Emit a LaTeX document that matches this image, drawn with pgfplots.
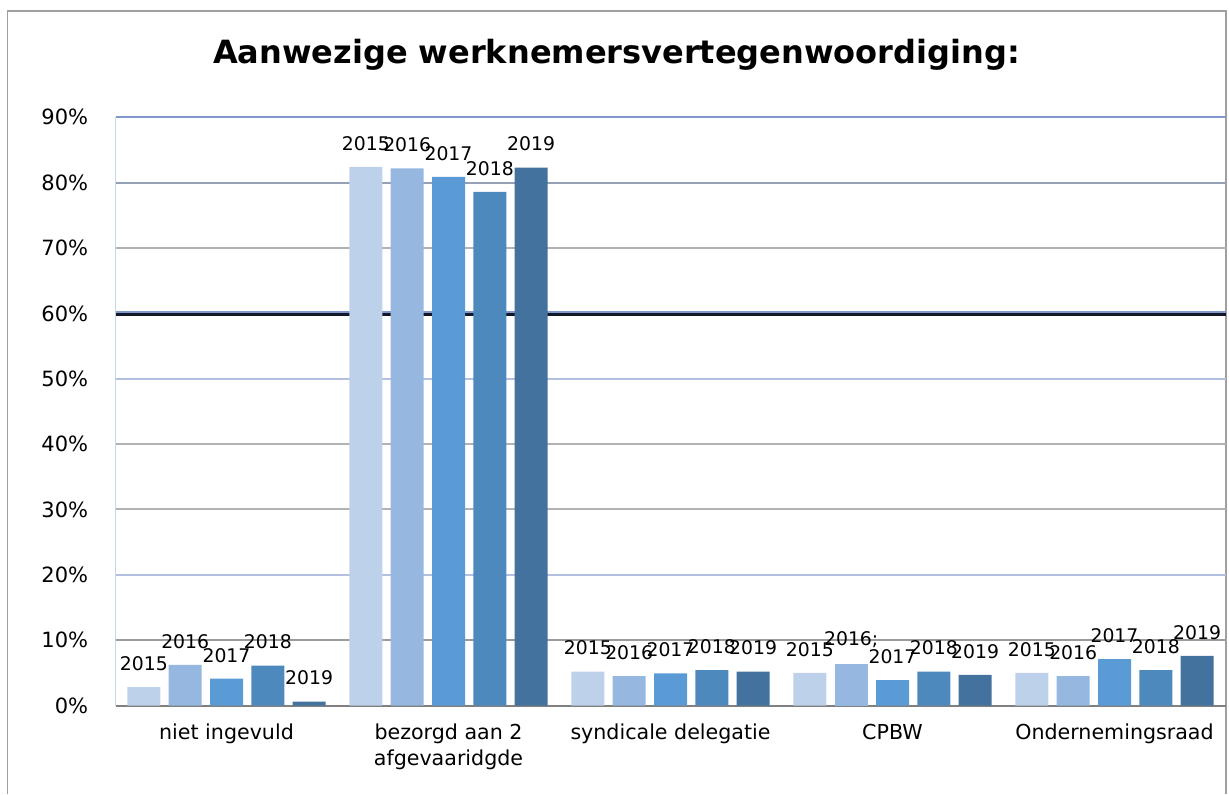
\documentclass[border=0pt]{standalone}
\usepackage{fontspec}
\setmainfont{DejaVu Sans}
\usepackage{pgfplots}
\pgfplotsset{compat=1.18}
\definecolor{cA}{RGB}{189,209,234}
\definecolor{cB}{RGB}{150,184,224}
\definecolor{cC}{RGB}{91,155,213}
\definecolor{cD}{RGB}{78,137,190}
\definecolor{cE}{RGB}{66,114,157}
\definecolor{gGrey}{RGB}{178,178,178}
\definecolor{gGreyDark}{RGB}{155,155,155}
\definecolor{gBlue}{RGB}{180,192,224}
\definecolor{gBlueDark}{RGB}{128,152,204}
\definecolor{gGreyBlue}{RGB}{150,160,180}
\definecolor{gNavy}{RGB}{18,24,40}
\definecolor{frameGrey}{RGB}{160,160,160}
\definecolor{leftAxis}{RGB}{200,215,240}

\begin{document}
\begin{tikzpicture}
\useasboundingbox (0pt,0pt) rectangle (614.5pt,397pt);
\draw[frameGrey, line width=0.8pt] (3.75pt,0pt) -- (3.75pt,391.5pt) -- (613pt,391.5pt) -- (613pt,0pt);
\node[anchor=base, font=\fontsize{16}{19}\selectfont\bfseries] at (308.25pt,365.3pt) {Aanwezige werknemersvertegenwoordiging:};
\begin{axis}[
  at={(57.75pt,44.25pt)}, anchor=south west,
  width=555pt, height=294.1pt, scale only axis,
  xmin=-0.5, xmax=4.5, ymin=0, ymax=90,
  axis x line*=bottom, axis y line*=left,
  x axis line style={draw=gray, line width=1pt, -},
  y axis line style={draw=leftAxis, line width=0.8pt, -},
  xtick={0,1,2,3,4},
  xticklabels={niet ingevuld, {bezorgd aan 2\\afgevaaridgde}, syndicale delegatie, CPBW, Ondernemingsraad},
  ytick={0,10,...,90},
  yticklabel={\pgfmathprintnumber{\tick}\%},
  /pgf/number format/assume math mode=true,
  major tick length=0pt,
  xticklabel style={anchor=north, inner sep=0pt, yshift=-9pt, align=center, font=\fontsize{10.3}{13}\selectfont},
  yticklabel style={anchor=east, inner sep=0pt, xshift=-13.5pt, font=\fontsize{10.5}{13}\selectfont},
  ybar, bar width=16.5pt,
  clip=false,
  nodes near coords style={anchor=south, inner sep=0pt, yshift=8pt, font=\fontsize{9.4}{11}\selectfont, text=black},
]
\draw[gGreyDark, line width=1.1pt] (axis cs:-0.5,10) -- (axis cs:4.5,10);
\draw[gBlue, line width=1pt] (axis cs:-0.5,20) -- (axis cs:4.5,20);
\draw[gGrey, line width=1pt] (axis cs:-0.5,30) -- (axis cs:4.5,30);
\draw[gGrey, line width=1pt] (axis cs:-0.5,40) -- (axis cs:4.5,40);
\draw[gBlue, line width=1pt] (axis cs:-0.5,50) -- (axis cs:4.5,50);
\draw[gBlueDark, line width=1.8pt] (axis cs:-0.5,60.05) -- (axis cs:4.5,60.05);
\draw[gNavy, line width=1.3pt] (axis cs:-0.5,59.85) -- (axis cs:4.5,59.85);
\draw[gGrey, line width=1pt] (axis cs:-0.5,70) -- (axis cs:4.5,70);
\draw[gGreyBlue, line width=1pt] (axis cs:-0.5,80) -- (axis cs:4.5,80);
\draw[gBlueDark, line width=1pt] (axis cs:-0.5,90) -- (axis cs:4.5,90);
\addplot[fill=cA, draw=none, bar shift=-41.3pt, nodes near coords={2015}] coordinates {(0,2.8) (1,82.4) (2,5.2) (3,5.0) (4,5.0)};
\addplot[fill=cB, draw=none, bar shift=-20.65pt, nodes near coords={2016}] coordinates {(0,6.2) (1,82.2) (2,4.5) (4,4.5)};
\addplot[fill=cB, draw=none, bar shift=-20.65pt, nodes near coords={2016;}] coordinates {(3,6.4)};
\addplot[fill=cC, draw=none, bar shift=0pt, nodes near coords={2017}] coordinates {(0,4.1) (1,80.9) (2,4.9) (3,3.9) (4,7.1)};
\addplot[fill=cD, draw=none, bar shift=20.65pt, nodes near coords={2018}] coordinates {(0,6.1) (1,78.6) (2,5.4) (3,5.2) (4,5.4)};
\addplot[fill=cE, draw=none, bar shift=41.3pt, nodes near coords={2019}] coordinates {(0,0.6) (1,82.3) (2,5.2) (3,4.7) (4,7.6)};
\end{axis}
\end{tikzpicture}
\end{document}
